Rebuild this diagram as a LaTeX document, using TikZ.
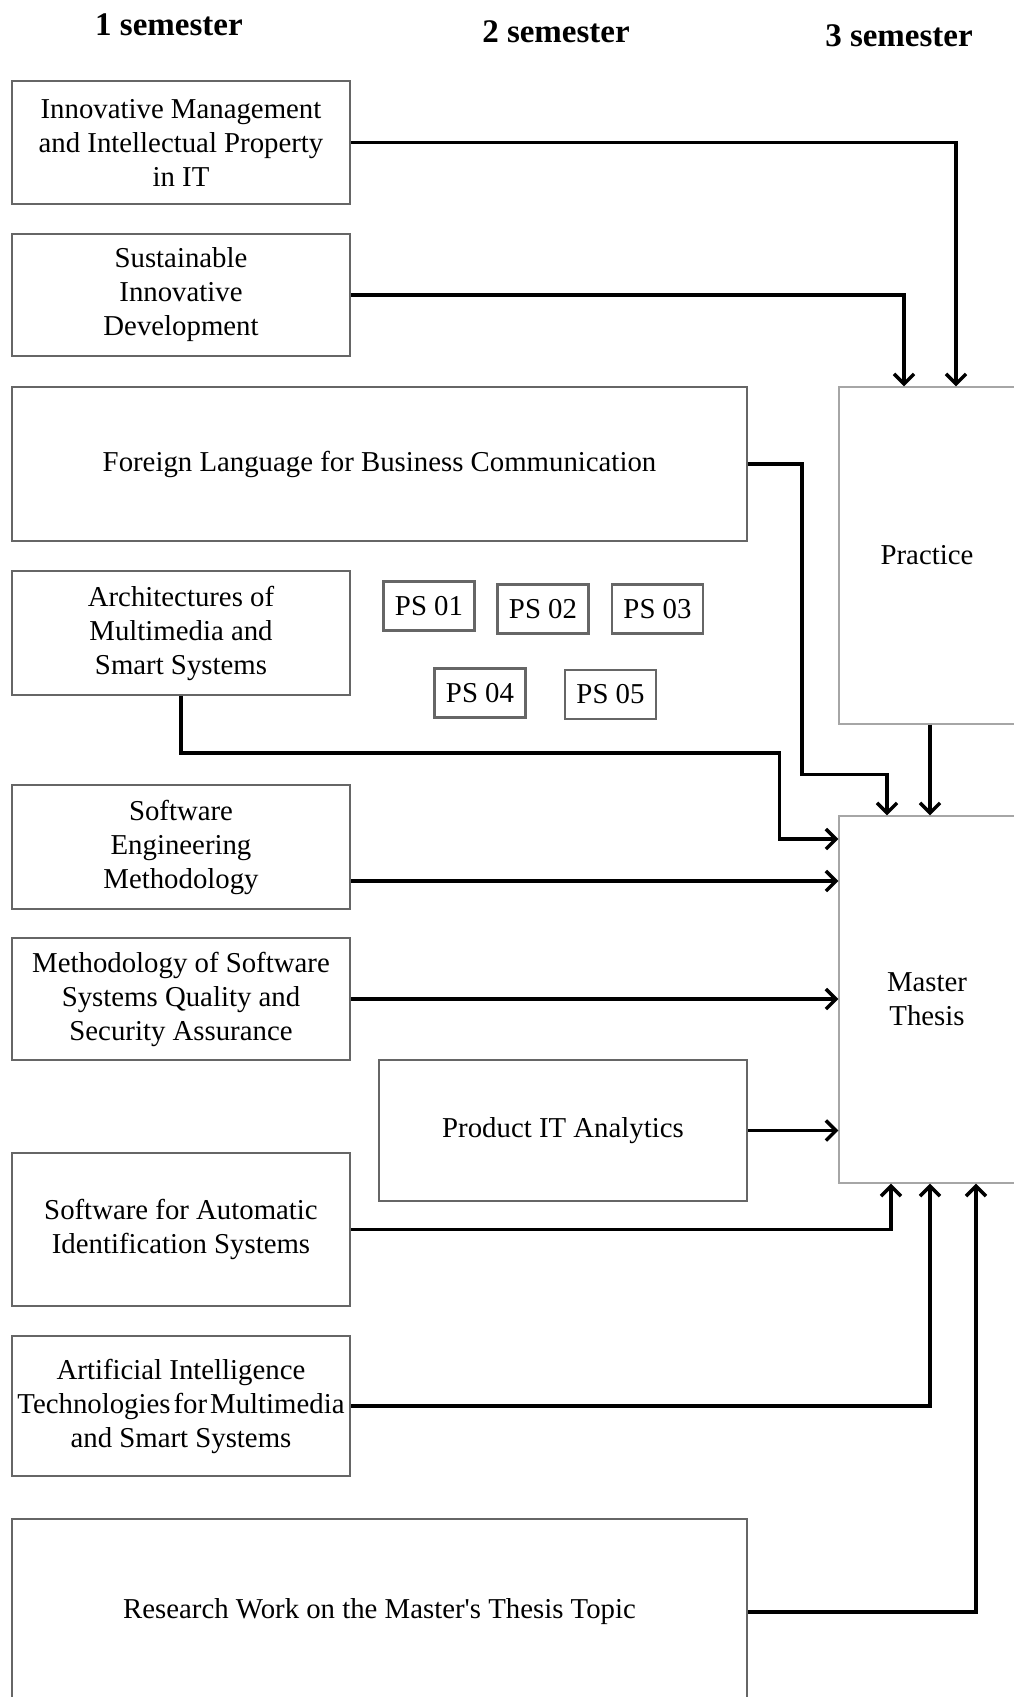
\documentclass[tikz,border=0pt]{standalone}
\usepackage{fontspec}
\setmainfont{Liberation Serif}
\usetikzlibrary{arrows.meta}
\tikzset{
  course/.style={draw=black!60, line width=1.1pt, align=center, inner sep=0pt, minimum width=169pt, font=\fontsize{14.4}{17}\selectfont},
  final/.style={draw=black!35, line width=0.7pt, align=center, inner sep=0pt, minimum width=88pt, font=\fontsize{14.4}{17}\selectfont},
  psbox/.style={draw=black!60, line width=1.1pt, inner sep=0pt, minimum width=45.5pt, minimum height=24.5pt, font=\fontsize{14.4}{17}\selectfont},
  semhead/.style={font=\fontsize{16.5}{19}\selectfont\bfseries},
  link/.style={draw, line width=1.7pt, ->, >={Straight Barb[length=5pt,width=10pt]}}
}
\begin{document}
\begin{tikzpicture}[x=0.5pt,y=-0.5pt]
\useasboundingbox (0,0) rectangle (1013,1697);
% semesters
\node[semhead] (s1) at (169,25) {1 semester};
\node[semhead] (s2) at (556,32) {2 semester};
\node[semhead] (s3) at (899,36) {3 semester};
% courses
\node[course, minimum height=61.5pt] (im) at (181,142.5) {Innovative Management\\and Intellectual Property\\in IT};
\node[course, minimum height=61pt] (sid) at (181,295) {Sustainable\\Innovative\\Development};
\node[course, minimum width=367.5pt, minimum height=77pt] (flbc) at (379.5,464) {Foreign Language for Business Communication};
\node[course, minimum height=62pt] (arch) at (181,633) {Architectures of\\Multimedia and\\Smart Systems};
\node[course, minimum height=62pt] (sem) at (181,847) {Software\\Engineering\\Methodology};
\node[course, minimum height=61pt] (mssq) at (181,999) {Methodology of Software\\Systems Quality and\\Security Assurance};
\node[course, minimum width=184pt, minimum height=70.5pt] (pita) at (563,1130.5) {Product IT Analytics};
\node[course, minimum height=76.5pt] (sais) at (181,1229.5) {Software for Automatic\\Identification Systems};
\node[course, minimum height=70pt] (ait) at (181,1406) {Artificial Intelligence\\{\spaceskip=1.5pt Technologies for Multimedia}\\and Smart Systems};
\node[course, minimum width=367.5pt, minimum height=93pt] (rw) at (379.5,1612) {Research Work on the Master\textquotesingle s Thesis Topic};
% profile subjects
\node[psbox] (ps1) at (429,606) {PS 01};
\node[psbox] (ps2) at (543,609) {PS 02};
\node[psbox] (ps3) at (657.5,609) {PS 03};
\node[psbox] (ps4) at (480,693) {PS 04};
\node[psbox] (ps5) at (610.5,694.5) {PS 05};
% 3 semester
\node[final, minimum height=168.5pt] (practice) at (927,555.5) {Practice};
\node[final, minimum height=183.5pt] (thesis) at (927,999.5) {Master\\Thesis};
% links
\draw[link] (im.east) -| ([xshift=14.5pt]practice.north);
\draw[link] (sid.east) -| ([xshift=-11.5pt]practice.north);
\draw[link] (flbc.east) -- ++(27pt,0) |- ([xshift=-20pt,yshift=20.5pt]thesis.north) -- ([xshift=-20pt]thesis.north);
\draw[link] (arch.south) -- ++(0,-28.5pt) -| ([xshift=-29.5pt,yshift=80.25pt]thesis.west) -- ([yshift=80.25pt]thesis.west);
\draw[link] ([xshift=1.5pt]practice.south) -- ([xshift=1.5pt]thesis.north);
\coordinate (semout) at ([yshift=-17pt]sem.east);
\draw[link] (semout) -- (semout -| thesis.west);
\draw[link] (mssq.east) -- (mssq.east -| thesis.west);
\draw[link] (pita.east) -- (pita.east -| thesis.west);
\draw[link] (sais.east) -| ([xshift=-18pt]thesis.south);
\draw[link] (ait.east) -| ([xshift=1.5pt]thesis.south);
\draw[link] (rw.east) -| ([xshift=24.5pt]thesis.south);
\end{tikzpicture}
\end{document}
